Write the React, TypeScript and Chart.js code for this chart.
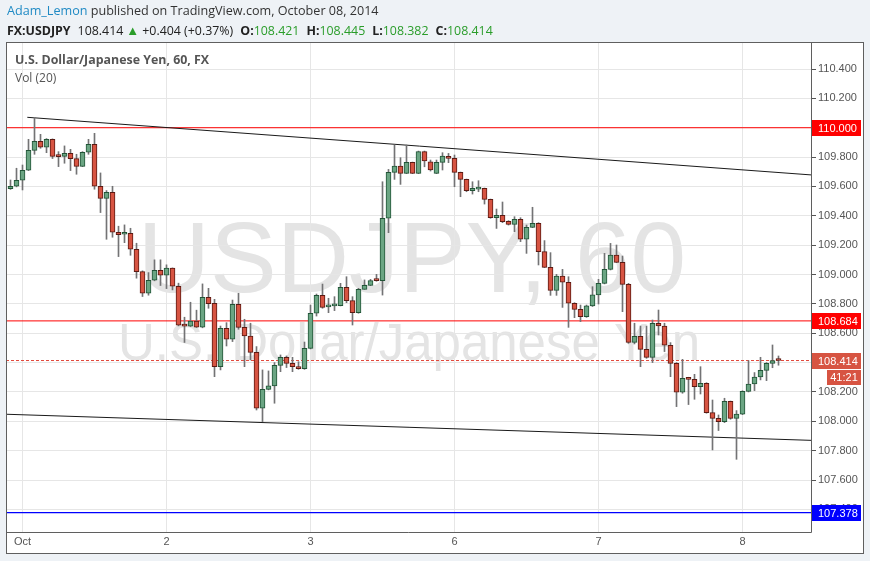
import React, { useEffect, useRef } from "react";
import { Chart, registerables } from "chart.js";

Chart.register(...registerables);

// ---- Data (hourly USDJPY candles) ----
const openPrices = [
  109.585, 109.601, 109.642, 109.710, 109.846, 109.908, 109.867, 109.921, 109.805, 109.805,
  109.826, 109.790, 109.737, 109.833, 109.887, 109.601, 109.519, 109.560, 109.288, 109.274,
  109.281, 109.172, 109.020, 108.873, 108.961, 109.029, 108.995, 109.043, 108.920, 108.655,
  108.648, 108.682, 108.641, 108.845, 108.804, 108.372, 108.633, 108.559, 108.797, 108.640,
  108.581, 108.470, 108.089, 108.218, 108.241, 108.381, 108.436, 108.395, 108.372, 108.359,
  108.497, 108.736, 108.858, 108.779, 108.786, 108.788, 108.913, 108.822, 108.740, 108.899,
  108.926, 108.960, 108.958, 109.383, 109.696, 109.739, 109.689, 109.764, 109.689, 109.837,
  109.768, 109.689, 109.764, 109.805, 109.791, 109.696, 109.648, 109.571, 109.582, 109.587,
  109.512, 109.387, 109.403, 109.362, 109.342, 109.376, 109.240, 109.321, 109.349, 109.156,
  109.049, 108.892, 108.990, 108.947, 108.804, 108.763, 108.713, 108.786, 108.861, 108.940,
  109.035, 109.133, 109.083, 108.933, 108.538, 108.579, 108.490, 108.436, 108.668, 108.649,
  108.518, 108.395, 108.198, 108.295, 108.286, 108.236, 108.259, 108.059, 108.020, 107.998,
  108.136, 108.020, 108.048, 108.204, 108.254, 108.302, 108.347, 108.395, 108.421,
];
const highPrices = [
  109.644, 109.724, 109.746, 109.921, 110.071, 109.955, 109.926, 109.924, 109.837, 109.876,
  109.853, 109.819, 109.837, 109.921, 109.962, 109.692, 109.572, 109.601, 109.329, 109.338,
  109.315, 109.213, 109.025, 109.013, 109.100, 109.100, 109.066, 109.045, 108.941, 108.709,
  108.811, 108.757, 108.936, 108.906, 108.831, 108.649, 108.672, 108.826, 108.872, 108.695,
  108.668, 108.509, 108.350, 108.343, 108.400, 108.452, 108.445, 108.436, 108.406, 108.540,
  108.792, 108.867, 108.935, 108.838, 108.849, 108.940, 108.985, 108.849, 108.906, 108.963,
  108.967, 109.001, 109.632, 109.716, 109.882, 109.796, 109.882, 109.766, 109.841, 109.841,
  109.780, 109.780, 109.830, 109.825, 109.814, 109.698, 109.650, 109.632, 109.639, 109.589,
  109.514, 109.446, 109.494, 109.367, 109.394, 109.387, 109.337, 109.458, 109.353, 109.231,
  109.149, 109.001, 109.035, 108.985, 108.808, 108.792, 108.792, 108.917, 108.967, 109.144,
  109.212, 109.201, 109.126, 108.940, 108.668, 108.649, 108.649, 108.690, 108.758, 108.668,
  108.536, 108.400, 108.422, 108.300, 108.320, 108.372, 108.263, 108.145, 108.043, 108.157,
  108.138, 108.073, 108.208, 108.413, 108.332, 108.436, 108.400, 108.520, 108.445,
];
const lowPrices = [
  109.580, 109.597, 109.576, 109.708, 109.819, 109.860, 109.830, 109.790, 109.735, 109.758,
  109.708, 109.683, 109.735, 109.819, 109.581, 109.422, 109.240, 109.254, 109.122, 109.217,
  109.131, 108.975, 108.850, 108.859, 108.957, 108.925, 108.904, 108.895, 108.650, 108.537,
  108.645, 108.639, 108.637, 108.770, 108.304, 108.350, 108.513, 108.543, 108.627, 108.372,
  108.418, 108.077, 107.998, 108.214, 108.123, 108.338, 108.366, 108.338, 108.354, 108.354,
  108.493, 108.717, 108.770, 108.740, 108.754, 108.786, 108.808, 108.656, 108.736, 108.899,
  108.924, 108.954, 108.860, 109.285, 109.648, 109.614, 109.687, 109.687, 109.687, 109.734,
  109.705, 109.687, 109.712, 109.762, 109.598, 109.530, 109.564, 109.548, 109.564, 109.480,
  109.383, 109.314, 109.353, 109.337, 109.292, 109.224, 109.144, 109.319, 109.065, 109.047,
  108.858, 108.858, 108.776, 108.640, 108.706, 108.679, 108.708, 108.782, 108.799, 108.936,
  109.031, 109.081, 108.747, 108.531, 108.527, 108.372, 108.429, 108.400, 108.588, 108.475,
  108.304, 108.100, 108.191, 108.114, 108.150, 108.186, 108.055, 107.805, 107.937, 107.991,
  108.014, 107.741, 108.045, 108.200, 108.209, 108.282, 108.277, 108.365, 108.382,
];
const closePrices = [
  109.601, 109.642, 109.710, 109.846, 109.908, 109.867, 109.921, 109.805, 109.803, 109.826,
  109.790, 109.737, 109.833, 109.887, 109.601, 109.519, 109.560, 109.288, 109.272, 109.281,
  109.172, 109.020, 108.873, 108.961, 109.029, 108.995, 109.043, 108.920, 108.655, 108.648,
  108.682, 108.641, 108.845, 108.801, 108.372, 108.633, 108.559, 108.797, 108.640, 108.581,
  108.470, 108.089, 108.218, 108.241, 108.381, 108.436, 108.395, 108.372, 108.359, 108.497,
  108.736, 108.858, 108.776, 108.788, 108.795, 108.913, 108.822, 108.740, 108.899, 108.926,
  108.958, 108.958, 109.383, 109.696, 109.739, 109.689, 109.764, 109.689, 109.837, 109.773,
  109.712, 109.764, 109.807, 109.791, 109.696, 109.648, 109.571, 109.587, 109.587, 109.512,
  109.387, 109.403, 109.360, 109.342, 109.376, 109.240, 109.321, 109.349, 109.156, 109.049,
  108.892, 108.990, 108.947, 108.804, 108.763, 108.713, 108.786, 108.861, 108.940, 109.035,
  109.133, 109.083, 108.933, 108.538, 108.579, 108.490, 108.436, 108.668, 108.649, 108.518,
  108.395, 108.198, 108.293, 108.286, 108.236, 108.259, 108.059, 108.020, 107.998, 108.136,
  108.020, 108.050, 108.204, 108.254, 108.302, 108.347, 108.395, 108.413, 108.414,
];

const dayTickIndex = [2, 26, 50, 74, 98, 122];
const dayTickLabels = ["Oct", "2", "3", "6", "7", "8"];
const priceTicks = [
  107.4, 107.6, 107.8, 108.0, 108.2, 108.4, 108.6, 108.8,
  109.0, 109.2, 109.4, 109.6, 109.8, 110.0, 110.2, 110.4,
];

const upperTrendIndex = [2.8, 133.6];
const upperTrendPrice = [110.071, 109.678];
const lowerTrendIndex = [-0.75, 133.6];
const lowerTrendPrice = [108.048, 107.87];

const resistanceLevels = [110.0, 108.684];
const supportLevel = 107.378;
const lastPrice = 108.414;
const barCountdown = "41:21";

const quoteSymbol = "FX:USDJPY";
const quoteChange = "+0.404 (+0.37%)";
const quoteOHLC = [
  ["O:", "108.421"],
  ["H:", "108.445"],
  ["L:", "108.382"],
  ["C:", "108.414"],
];

// ---- Styling ----
const X_MIN = -0.75;
const X_MAX = 133.583;
const Y_MIN = 107.239;
const Y_MAX = 110.584;

const UP_FILL = "#6ba583";
const UP_BORDER = "#225437";
const DOWN_FILL = "#d75442";
const DOWN_BORDER = "#5b1a13";
const WICK = "#737375";
const AXIS_FONT = '"Liberation Sans", Arial, sans-serif';

const levelData = (v: number) => [
  { x: X_MIN, y: v },
  { x: X_MAX, y: v },
];

const decorPlugin = {
  id: "decor",
  beforeDraw(chart: any) {
    const { ctx, chartArea: a } = chart;
    ctx.save();
    ctx.fillStyle = "#ffffff";
    ctx.fillRect(6, 42, 858, 512);
    ctx.fillStyle = "#e4e4e4";
    ctx.textAlign = "center";
    ctx.textBaseline = "alphabetic";
    const cx = (a.left + a.right) / 2;
    ctx.font = `100px ${AXIS_FONT}`;
    ctx.fillText("USDJPY, 60", cx + 3, a.top + 250);
    ctx.font = `51px ${AXIS_FONT}`;
    ctx.fillText("U.S. Dollar/Japanese Yen", cx, a.top + 318);
    ctx.restore();
  },
  afterDraw(chart: any) {
    const { ctx, chartArea: a } = chart;
    const ys = chart.scales.y;
    ctx.save();
    ctx.strokeStyle = "#5f5f5f";
    ctx.lineWidth = 1;
    ctx.strokeRect(6.5, 42.5, 857, 511);
    ctx.beginPath();
    ctx.moveTo(a.right - 0.5, a.top);
    ctx.lineTo(a.right - 0.5, a.bottom - 0.5);
    ctx.lineTo(a.left, a.bottom - 0.5);
    ctx.stroke();

    ctx.font = `11px ${AXIS_FONT}`;
    ctx.textBaseline = "middle";
    const box = (value: number, color: string) => {
      const py = Math.round(ys.getPixelForValue(value));
      ctx.fillStyle = color;
      ctx.fillRect(a.right, py - 8, 49, 16);
      ctx.fillStyle = "#ffffff";
      ctx.textAlign = "left";
      ctx.fillText(value.toFixed(3), a.right + 6, py + 0.5);
      return py;
    };
    box(resistanceLevels[0], "#ff0000");
    box(resistanceLevels[1], "#ff0000");
    box(supportLevel, "#0000ff");
    const lp = box(lastPrice, "#d75442");
    ctx.fillStyle = "#d75442";
    ctx.fillRect(a.right + 15, lp + 9, 34, 15);
    ctx.fillStyle = "#ffffff";
    ctx.textAlign = "center";
    ctx.fillText(barCountdown, a.right + 32, lp + 17);
    ctx.restore();
  },
};

export default function App() {
  const canvasRef = useRef<HTMLCanvasElement | null>(null);

  useEffect(() => {
    const canvas = canvasRef.current;
    if (!canvas) return;
    const idx = openPrices.map((_, i) => i);
    const isUp = idx.map((i) => closePrices[i] >= openPrices[i]);

    const chart = new Chart(canvas, {
      type: "bar",
      data: {
        datasets: [
          {
            type: "line",
            data: levelData(resistanceLevels[0]),
            borderColor: "#ff0000",
            borderWidth: 1,
            pointRadius: 0,
            order: 5,
          },
          {
            type: "line",
            data: levelData(resistanceLevels[1]),
            borderColor: "#ff0000",
            borderWidth: 1,
            pointRadius: 0,
            order: 5,
          },
          {
            type: "line",
            data: levelData(supportLevel),
            borderColor: "#0000ff",
            borderWidth: 1.2,
            pointRadius: 0,
            order: 5,
          },
          {
            type: "line",
            data: levelData(lastPrice),
            borderColor: "#e2483a",
            borderWidth: 1,
            borderDash: [3, 2],
            pointRadius: 0,
            order: 5,
          },
          {
            type: "line",
            data: upperTrendIndex.map((x, i) => ({ x, y: upperTrendPrice[i] })),
            borderColor: "#1a1a1a",
            borderWidth: 1,
            pointRadius: 0,
            order: 4,
          },
          {
            type: "line",
            data: lowerTrendIndex.map((x, i) => ({ x, y: lowerTrendPrice[i] })),
            borderColor: "#1a1a1a",
            borderWidth: 1,
            pointRadius: 0,
            order: 4,
          },
          {
            type: "bar",
            data: idx.map((i) => ({ x: i, y: [lowPrices[i], highPrices[i]] })) as any,
            backgroundColor: WICK,
            borderWidth: 0,
            barThickness: 1,
            grouped: false,
            order: 2,
          },
          {
            type: "bar",
            data: idx.map((i) => ({ x: i, y: [openPrices[i], closePrices[i]] })) as any,
            backgroundColor: idx.map((i) => (isUp[i] ? UP_FILL : DOWN_FILL)),
            borderColor: idx.map((i) => (isUp[i] ? UP_BORDER : DOWN_BORDER)),
            borderWidth: 1,
            borderSkipped: false,
            barThickness: 5,
            minBarLength: 2,
            grouped: false,
            order: 1,
          },
        ] as any,
      },
      options: {
        animation: false,
        responsive: false,
        maintainAspectRatio: false,
        layout: { padding: { left: 6, top: 42, right: 6, bottom: 7 } },
        plugins: {
          legend: { display: false },
          tooltip: { enabled: false },
        },
        scales: {
          x: {
            type: "linear",
            min: X_MIN,
            max: X_MAX,
            offset: false,
            afterBuildTicks: (s: any) => {
              s.ticks = dayTickIndex.map((v) => ({ value: v }));
            },
            afterFit: (s: any) => {
              s.height = 21;
            },
            ticks: {
              autoSkip: false,
              maxRotation: 0,
              padding: 2,
              color: "#555555",
              font: { family: AXIS_FONT, size: 11 },
              callback: (_v: any, i: number) => dayTickLabels[i],
            },
            grid: { color: "#e6e6e6", drawTicks: false, offset: false },
            border: { display: false },
          },
          y: {
            type: "linear",
            position: "right",
            min: Y_MIN,
            max: Y_MAX,
            afterBuildTicks: (s: any) => {
              s.ticks = priceTicks.map((v) => ({ value: v }));
            },
            afterFit: (s: any) => {
              s.width = 52;
            },
            ticks: {
              padding: 2,
              color: "#555555",
              font: { family: AXIS_FONT, size: 11 },
              callback: (v: any) => Number(v).toFixed(3),
            },
            grid: { color: "#e6e6e6", tickColor: "#555555", tickLength: 4 },
            border: { display: false },
          },
        },
      } as any,
      plugins: [decorPlugin],
    });
    return () => chart.destroy();
  }, []);

  const green = "#2a9d2a";
  const gap = { marginLeft: 7 };
  return (
    <div
      style={{
        position: "fixed",
        left: 0,
        top: 0,
        width: 870,
        height: 561,
        background: "#eef2f6",
        overflow: "hidden",
        fontFamily: '"Open Sans", sans-serif',
      }}
    >
      <canvas
        ref={canvasRef}
        width={870}
        height={561}
        style={{ position: "absolute", left: 0, top: 0, width: 870, height: 561 }}
      />
      <div
        style={{
          position: "absolute",
          left: 7,
          top: 2,
          fontSize: 12.6,
          color: "#333333",
          whiteSpace: "nowrap",
        }}
      >
        <span style={{ color: "#1f8ac4" }}>Adam_Lemon</span> published on TradingView.com, October 08, 2014
      </div>
      <div
        style={{
          position: "absolute",
          left: 7,
          top: 21,
          fontSize: 12.4,
          color: "#222222",
          whiteSpace: "nowrap",
        }}
      >
        <b>{quoteSymbol}</b>
        <span style={gap}>{lastPrice.toFixed(3)}</span>
        <span style={{ color: green, fontSize: 13, marginLeft: 3 }}>▲</span>
        <span style={{ marginLeft: 3 }}>{quoteChange}</span>
        {quoteOHLC.map(([k, v]) => (
          <span key={k} style={gap}>
            <b>{k}</b>
            <span style={{ color: green }}>{v}</span>
          </span>
        ))}
      </div>
      <div
        style={{
          position: "absolute",
          left: 15,
          top: 51,
          fontSize: 12.4,
          fontWeight: 700,
          color: "#555555",
          whiteSpace: "nowrap",
        }}
      >
        U.S. Dollar/Japanese Yen, 60, FX
      </div>
      <div
        style={{
          position: "absolute",
          left: 15,
          top: 69,
          fontSize: 12,
          color: "#555555",
          whiteSpace: "nowrap",
        }}
      >
        Vol (20)
      </div>
    </div>
  );
}
